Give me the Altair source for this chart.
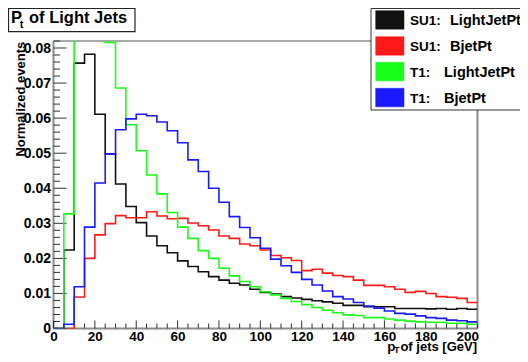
import altair as alt
import pandas as pd

# ---------------- data ----------------
BIN_WIDTH = 5
X_MAX = 205
BIN_LOW = list(range(0, X_MAX, BIN_WIDTH))  # 41 bins

NAMES = ["SU1 LightJetPt", "SU1 BjetPt", "T1 LightJetPt", "T1 BjetPt"]
PREFIX = ["SU1:", "SU1:", "T1:", "T1:"]
LABEL = ["LightJetPt", "BjetPt", "LightJetPt", "BjetPt"]
COLORS = ["#111111", "#ff1a1a", "#1aff1a", "#1a1aff"]

su1_light = [0.0, 0.0224, 0.0757, 0.0782, 0.0611, 0.0498, 0.0412, 0.0348, 0.0302, 0.0264,
             0.0236, 0.0216, 0.0193, 0.0177, 0.0162, 0.0148, 0.0138, 0.0129, 0.0124, 0.0112,
             0.0103, 0.0098, 0.0091, 0.0087, 0.0083, 0.0079, 0.0076, 0.0072, 0.0066, 0.0066,
             0.0062, 0.0062, 0.0062, 0.0057, 0.0057, 0.0057, 0.0056, 0.0057, 0.0055, 0.0057,
             0.0055]
su1_bjet = [0.0, 0.0, 0.0090, 0.0200, 0.0267, 0.0299, 0.0322, 0.0316, 0.0316, 0.0333,
            0.0321, 0.0313, 0.0314, 0.0301, 0.0293, 0.0281, 0.0264, 0.0257, 0.0241, 0.0236,
            0.0224, 0.0208, 0.0202, 0.0194, 0.0165, 0.0169, 0.0158, 0.0151, 0.0148, 0.0138,
            0.0123, 0.0123, 0.0119, 0.0112, 0.0103, 0.0106, 0.0100, 0.0091, 0.0089, 0.0086,
            0.0074]
t1_light = [0.0, 0.0327, 0.1050, 0.1180, 0.0950, 0.0816, 0.0686, 0.0581, 0.0507, 0.0438,
            0.0384, 0.0331, 0.0289, 0.0257, 0.0222, 0.0200, 0.0172, 0.0150, 0.0134, 0.0119,
            0.0105, 0.0096, 0.0086, 0.0077, 0.0068, 0.0060, 0.0052, 0.0045, 0.0039, 0.0037,
            0.0031, 0.0031, 0.0027, 0.0024, 0.0021, 0.0019, 0.0018, 0.0018, 0.0015, 0.0015,
            0.0012]
t1_bjet = [0.0, 0.0012, 0.0119, 0.0289, 0.0415, 0.0498, 0.0567, 0.0598, 0.0611, 0.0607,
           0.0589, 0.0564, 0.0530, 0.0481, 0.0448, 0.0400, 0.0360, 0.0319, 0.0288, 0.0259,
           0.0229, 0.0198, 0.0179, 0.0160, 0.0140, 0.0124, 0.0107, 0.0091, 0.0084, 0.0074,
           0.0064, 0.0058, 0.0050, 0.0043, 0.0041, 0.0036, 0.0031, 0.0029, 0.0024, 0.0022,
           0.0019]
SERIES_VALUES = [su1_light, su1_bjet, t1_light, t1_bjet]

X_TICKS_MAJOR = [0, 20, 40, 60, 80, 100, 120, 140, 160, 180, 200]
X_TICKS_MINOR = [v for v in range(0, X_MAX + 1, 5) if v % 20 != 0]
Y_TICKS_MAJOR = [0.0, 0.01, 0.02, 0.03, 0.04, 0.05, 0.06, 0.07, 0.08]
Y_TICKS_MINOR = [round(0.002 * k, 3) for k in range(0, 42) if k % 5 != 0]
Y_MAX = 0.082

TITLE_MAIN = "of Light Jets"
X_TITLE = "of jets [GeV]"
Y_TITLE = "Normalized events"

# ---------------- layout ----------------
W, H = 424, 287.5
FONT = "Liberation Sans"

xscale = alt.Scale(domain=[0, X_MAX], nice=False, zero=False)
yscale = alt.Scale(domain=[0, Y_MAX], nice=False, zero=False)
AX_X = alt.Axis(values=X_TICKS_MAJOR, ticks=False, domain=False, grid=False, title=None,
                labelFont=FONT, labelFontWeight="bold", labelFontSize=13.5,
                labelColor="black", labelPadding=1, labelFlush=False, labelOverlap=False)
AX_Y = alt.Axis(values=Y_TICKS_MAJOR, ticks=False, domain=False, grid=False, title=None,
                labelFont=FONT, labelFontWeight="bold", labelFontSize=14,
                labelColor="black", labelPadding=3, labelFlush=False, labelOverlap=False,
                labelExpr="datum.value == 0 ? '0' : format(datum.value, '.2f')")

one = pd.DataFrame({"a": [0]})
layers = []

# frame
GRAY = "#8c8c8c"
layers.append(alt.Chart(one).mark_rule(color="#555555", strokeWidth=1).encode(
    x=alt.value(0), x2=alt.value(W), y=alt.value(0)))
layers.append(alt.Chart(one).mark_rule(color=GRAY, strokeWidth=2).encode(
    x=alt.value(W), y=alt.value(0), y2=alt.value(H)))
layers.append(alt.Chart(one).mark_rule(color=GRAY, strokeWidth=2).encode(
    x=alt.value(0), y=alt.value(0), y2=alt.value(H)))
layers.append(alt.Chart(one).mark_rule(color=GRAY, strokeWidth=2).encode(
    x=alt.value(0), x2=alt.value(W), y=alt.value(H)))

# inward ticks
TICK = "#333333"
layers.append(alt.Chart(pd.DataFrame({"v": X_TICKS_MAJOR})).mark_rule(color=TICK, strokeWidth=1).encode(
    x=alt.X("v:Q", scale=xscale, axis=AX_X), y=alt.value(H), y2=alt.value(H - 8)))
layers.append(alt.Chart(pd.DataFrame({"v": X_TICKS_MINOR})).mark_rule(color=TICK, strokeWidth=1).encode(
    x=alt.X("v:Q", scale=xscale, axis=AX_X), y=alt.value(H), y2=alt.value(H - 5)))
layers.append(alt.Chart(pd.DataFrame({"v": Y_TICKS_MAJOR})).mark_rule(color=TICK, strokeWidth=1).encode(
    y=alt.Y("v:Q", scale=yscale, axis=AX_Y), x=alt.value(0), x2=alt.value(13)))
layers.append(alt.Chart(pd.DataFrame({"v": Y_TICKS_MINOR})).mark_rule(color=TICK, strokeWidth=1).encode(
    y=alt.Y("v:Q", scale=yscale, axis=AX_Y), x=alt.value(0), x2=alt.value(6.5)))

# histograms
for name, vals, col in zip(NAMES, SERIES_VALUES, COLORS):
    df = pd.DataFrame({"x": BIN_LOW + [X_MAX], "y": vals + [vals[-1]]})
    layers.append(alt.Chart(df).mark_line(interpolate="step-after", clip=True,
                                          color=col, strokeWidth=1.6).encode(
        x=alt.X("x:Q", scale=xscale, axis=AX_X),
        y=alt.Y("y:Q", scale=yscale, axis=AX_Y)))

# axis titles
layers.append(alt.Chart(one).mark_text(text="p", font=FONT, fontWeight="bold", fontSize=13.5,
                                       align="left", baseline="alphabetic").encode(
    x=alt.value(333.8), y=alt.value(310.2)))
layers.append(alt.Chart(one).mark_text(text="T", font=FONT, fontWeight="bold", fontSize=9,
                                       align="left", baseline="alphabetic").encode(
    x=alt.value(340.5), y=alt.value(311.6)))
layers.append(alt.Chart(one).mark_text(text=X_TITLE, font=FONT, fontWeight="bold", fontSize=13,
                                       align="right", baseline="alphabetic").encode(
    x=alt.value(423.5), y=alt.value(310.2)))
layers.append(alt.Chart(one).mark_text(text=Y_TITLE, font=FONT, fontWeight="bold", fontSize=13,
                                       align="right", baseline="alphabetic", angle=270).encode(
    x=alt.value(-28.5), y=alt.value(0.7)))

# title box
layers.append(alt.Chart(one).mark_rect(fill="white", stroke="#222222", strokeWidth=1.2).encode(
    x=alt.value(-45), x2=alt.value(81.5), y=alt.value(-32.5), y2=alt.value(-9.3)))
layers.append(alt.Chart(one).mark_text(text="P", font=FONT, fontWeight="bold", fontSize=16.5,
                                       align="left", baseline="alphabetic").encode(
    x=alt.value(-42.5), y=alt.value(-18)))
layers.append(alt.Chart(one).mark_text(text="t", font=FONT, fontWeight="bold", fontSize=11,
                                       align="left", baseline="alphabetic").encode(
    x=alt.value(-33.8), y=alt.value(-13)))
layers.append(alt.Chart(one).mark_text(text=TITLE_MAIN, font=FONT, fontWeight="bold", fontSize=16.5,
                                       align="left", baseline="alphabetic").encode(
    x=alt.value(-24.5), y=alt.value(-18)))

# legend
layers.append(alt.Chart(one).mark_rect(fill="white", stroke="#333333", strokeWidth=1).encode(
    x=alt.value(317.5), x2=alt.value(490), y=alt.value(-32.5), y2=alt.value(69)))
ROW_TOP = [-30.3, -4.3, 21.3, 47.3]
NAME_X = [396.5, 396.5, 390.5, 390.5]
for i in range(4):
    layers.append(alt.Chart(one).mark_rect(fill=COLORS[i], stroke=COLORS[i], strokeWidth=0.5).encode(
        x=alt.value(322.2), x2=alt.value(350.5), y=alt.value(ROW_TOP[i]), y2=alt.value(ROW_TOP[i] + 18.5)))
    base_y = ROW_TOP[i] + 14.3
    layers.append(alt.Chart(one).mark_text(text=PREFIX[i], font=FONT, fontWeight="bold", fontSize=13.5,
                                           align="left", baseline="alphabetic").encode(
        x=alt.value(356.5), y=alt.value(base_y)))
    layers.append(alt.Chart(one).mark_text(text=LABEL[i], font=FONT, fontWeight="bold", fontSize=14.5,
                                           align="left", baseline="alphabetic").encode(
        x=alt.value(NAME_X[i]), y=alt.value(base_y)))

chart = alt.layer(*layers).properties(
    width=W, height=H,
    autosize=alt.AutoSizeParams(type="none"),
    padding={"left": 45.5, "top": 33, "right": 42.5, "bottom": 25.5},
    background="white",
).configure_view(strokeWidth=0)

chart.save("out.html", embed_options={"renderer": "svg", "actions": False})
